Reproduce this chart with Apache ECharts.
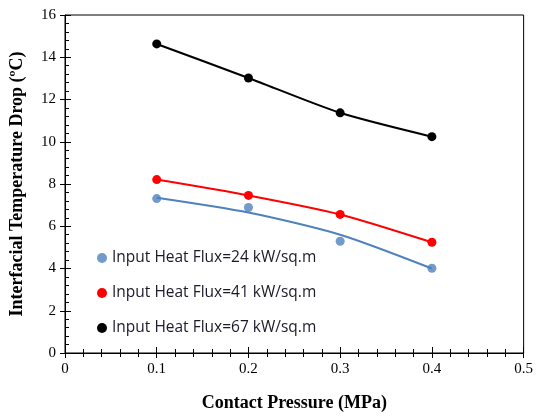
<!DOCTYPE html>
<html>
<head>
<meta charset="utf-8">
<script src="https://cdn.jsdelivr.net/npm/echarts@6/dist/echarts.min.js"></script>
<style>
  html, body { margin: 0; padding: 0; background: #fff; }
  #chart { width: 536px; height: 417px; }
</style>
</head>
<body>
<div id="chart"></div>
<script>
// contact pressure (MPa)
var pressure = [0.1, 0.2, 0.3, 0.4];
// measured temperature drop (ºC)
var flux24 = [7.31, 6.89, 5.29, 4.01];
var flux41 = [8.21, 7.46, 6.56, 5.24];
var flux67 = [14.63, 13.02, 11.37, 10.24];
// trendline through the 24 kW/sq.m points
var flux24Trend = [7.35, 6.65, 5.6, 4.0];

var names = [
  'Input Heat Flux=24 kW/sq.m',
  'Input Heat Flux=41 kW/sq.m',
  'Input Heat Flux=67 kW/sq.m'
];

function pairs(ys) {
  return pressure.map(function (x, i) { return [x, ys[i]]; });
}

var chart = echarts.init(document.getElementById('chart'));
var serif = '"Liberation Serif", "Times New Roman", serif';

var option = {
  animation: false,
  grid: {
    left: 65, right: 9, top: 15, bottom: 63,
    show: true, borderColor: '#000', borderWidth: 1
  },
  legend: {
    orient: 'vertical',
    left: 92, top: 245,
    itemGap: 19,
    itemWidth: 10, itemHeight: 10,
    icon: 'circle',
    data: names,
    textStyle: { fontFamily: '"Open Sans", sans-serif', fontSize: 15.5, color: '#1a1a2a' }
  },
  xAxis: [
    {
      type: 'value', min: 0, max: 0.5, interval: 0.1,
      name: 'Contact Pressure (MPa)', nameLocation: 'middle', nameGap: 41,
      nameTextStyle: { fontFamily: serif, fontWeight: 'bold', fontSize: 18, color: '#000' },
      axisLine: { lineStyle: { color: '#000' } },
      axisTick: { length: 5, lineStyle: { color: '#000' } },
      minorTick: { show: true, splitNumber: 5, length: 4, lineStyle: { color: '#000' } },
      axisLabel: { fontFamily: serif, fontSize: 15, color: '#000', margin: 9 },
      splitLine: { show: false }
    },
    {
      type: 'value', min: 0, max: 0.5, interval: 0.1, position: 'bottom',
      axisLine: { show: false },
      axisTick: { inside: true, length: 6, lineStyle: { color: '#000' } },
      minorTick: { show: true, splitNumber: 5, length: 4, lineStyle: { color: '#000' } },
      axisLabel: { show: false },
      splitLine: { show: false }
    }
  ],
  yAxis: [
    {
      type: 'value', min: 0, max: 16, interval: 2,
      name: 'Interfacial Temperature Drop (ºC)', nameLocation: 'middle', nameGap: 39,
      nameRotate: 90,
      nameTextStyle: { fontFamily: serif, fontWeight: 'bold', fontSize: 18, color: '#000' },
      axisLine: { lineStyle: { color: '#000' } },
      axisTick: { length: 5, lineStyle: { color: '#000' } },
      axisLabel: { fontFamily: serif, fontSize: 15, color: '#000', margin: 9 },
      splitLine: { show: false }
    },
    {
      type: 'value', min: 0, max: 16, interval: 2, position: 'left',
      axisLine: { show: false },
      axisTick: { inside: true, length: 6, lineStyle: { color: '#000' } },
      minorTick: { show: true, splitNumber: 5, length: 4, lineStyle: { color: '#000' } },
      axisLabel: { show: false },
      splitLine: { show: false }
    }
  ],
  series: [
    {
      name: names[0], type: 'scatter', data: pairs(flux24),
      symbolSize: 9, itemStyle: { color: '#4f81bd' }, z: 3
    },
    {
      name: 'trend24', type: 'line', data: pairs(flux24Trend), smooth: 0.25,
      showSymbol: false, lineStyle: { color: '#4f81bd', width: 2 },
      itemStyle: { color: '#4f81bd' }, z: 2
    },
    {
      name: names[1], type: 'line', data: pairs(flux41), smooth: 0.25,
      symbol: 'circle', symbolSize: 9,
      lineStyle: { color: '#ff0000', width: 2 }, itemStyle: { color: '#ff0000' }
    },
    {
      name: names[2], type: 'line', data: pairs(flux67), smooth: 0.25,
      symbol: 'circle', symbolSize: 9,
      lineStyle: { color: '#000000', width: 2 }, itemStyle: { color: '#000000' }
    }
  ]
};

chart.setOption(option);
</script>
</body>
</html>
